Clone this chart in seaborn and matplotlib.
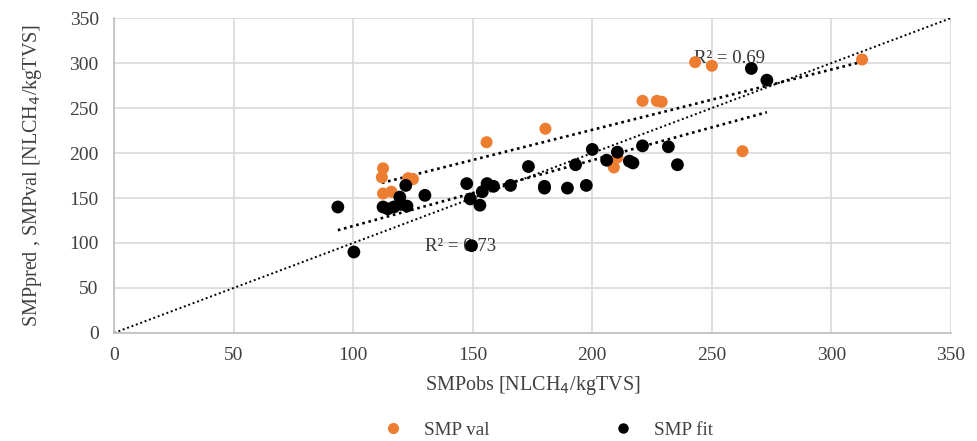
import numpy as np
import pandas as pd
import matplotlib
matplotlib.use("Agg")
import matplotlib.pyplot as plt
from matplotlib.lines import Line2D
import seaborn as sns

# Validation set: observed vs validated SMP
val_obs = [112.5, 112.0, 112.5, 116.0, 123.0, 125.0, 155.8, 180.4, 221.0, 227.0,
           229.0, 243.0, 250.0, 262.8, 209.0, 210.5, 312.8]
val_pred = [183, 173, 155, 157, 172, 171, 212, 227, 258, 258,
            257, 301, 297, 202, 184, 195, 304]

# Fitting set: observed vs predicted SMP
fit_obs = [93.6, 100.3, 112.5, 114.5, 117.0, 119.5, 120.0, 122.0, 122.5, 130.0,
           147.5, 149.0, 153.0, 154.0, 156.0, 158.7, 165.8, 173.3, 180.0, 180.0,
           189.6, 193.0, 197.5, 200.0, 206.0, 210.5, 215.5, 217.0, 221.0, 231.8,
           235.6, 266.5, 273.0, 149.5]
fit_pred = [140, 90, 140, 138, 140, 151, 143, 164, 141, 153,
            166, 149, 142, 157, 166, 163, 164, 185, 163, 161,
            161, 187, 164, 204, 192, 201, 191, 189, 208, 207,
            187, 294, 281, 97]

r2_val = "R² = 0.69"
r2_fit = "R² = 0.73"

ORANGE = "#ED7D31"
TEXT = "#404040"
SERIF = ["Liberation Serif", "DejaVu Serif"]

sns.set_theme(style="whitegrid")
plt.rcParams["font.family"] = SERIF

val_df = pd.DataFrame({"obs": val_obs, "pred": val_pred})
fit_df = pd.DataFrame({"obs": fit_obs, "pred": fit_pred})

fig = plt.figure(figsize=(9.77, 4.41), dpi=100)
ax = fig.add_axes([0.1167, 0.245, 0.8567, 0.714])

sns.scatterplot(data=val_df, x="obs", y="pred", color=ORANGE, s=75,
                edgecolor="none", ax=ax, zorder=3)
sns.scatterplot(data=fit_df, x="obs", y="pred", color="black", s=85,
                edgecolor="none", ax=ax, zorder=3)

dotted = dict(color="black", linestyle=(0, (1, 1.4)), linewidth=1.9)
sns.regplot(data=val_df, x="obs", y="pred", scatter=False, ci=None,
            truncate=True, line_kws=dotted, ax=ax)
sns.regplot(data=fit_df, x="obs", y="pred", scatter=False, ci=None,
            truncate=True, line_kws=dotted, ax=ax)
ax.axline((0, 0), slope=1, color="black", linestyle=(0, (1, 1.4)), linewidth=1.4)

ax.text(242.5, 305, r2_val, fontsize=13.5, color="#333333", va="center", zorder=2)
ax.text(130, 96.5, r2_fit, fontsize=13.5, color="#333333", va="center", zorder=2)

ax.set_xlim(0, 350)
ax.set_ylim(0, 350)
ax.set_xticks(np.arange(0, 351, 50))
ax.set_yticks(np.arange(0, 351, 50))
ax.grid(True, color="#d9d9d9", linewidth=1.2)
for side in ["top", "right"]:
    ax.spines[side].set_visible(False)
for side in ["left", "bottom"]:
    ax.spines[side].set_color("#bfbfbf")
    ax.spines[side].set_linewidth(1.2)
ax.tick_params(axis="both", labelsize=14, colors=TEXT, length=0)
ax.tick_params(axis="x", pad=10)
ax.tick_params(axis="y", pad=11)

ax.set_xlabel("SMPobs [NLCH$_4$/kgTVS]", fontsize=14.5, color=TEXT, labelpad=7)
ax.set_ylabel("SMPpred , SMPval [NLCH$_4$/kgTVS]", fontsize=14.5, color=TEXT, labelpad=18)

handles = [
    Line2D([], [], marker="o", linestyle="none", markersize=8,
           markerfacecolor=ORANGE, markeredgecolor="none", label="SMP val"),
    Line2D([], [], marker="o", linestyle="none", markersize=7.5,
           markerfacecolor="black", markeredgecolor="none", label="SMP fit"),
]
leg = fig.legend(handles=handles, loc="center", bbox_to_anchor=(0.561, 0.024),
                 ncol=2, frameon=False, fontsize=13.8, handlelength=1,
                 handletextpad=1.1, columnspacing=6.5, borderpad=0)
for t in leg.get_texts():
    t.set_color(TEXT)

fig.savefig("out.png", dpi=100)
